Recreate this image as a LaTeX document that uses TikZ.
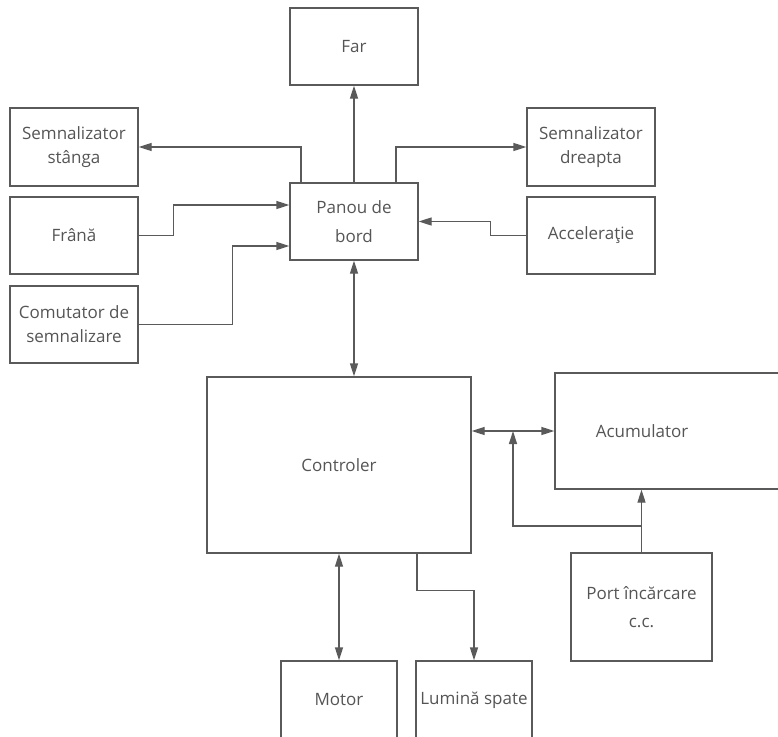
\documentclass[tikz,border=0pt]{standalone}
\usepackage{fontspec}
\setmainfont{Open Sans}
\usetikzlibrary{arrows.meta}
\definecolor{ln}{HTML}{5A5A5A}
\definecolor{txt}{HTML}{555555}
\tikzset{
  lbl/.style={text=txt, align=center, font=\fontsize{17}{24}\selectfont},
  widelbl/.style={font=\fontsize{17}{28.5}\selectfont},
  box/.style={draw=ln, line width=1.3pt, inner sep=0pt, lbl},
  wire/.style={draw=ln, line width=1.3pt},
  arr/.style={wire, -{Triangle[length=13pt,width=8pt]}},
  darr/.style={wire, {Triangle[length=13pt,width=8pt]}-{Triangle[length=13pt,width=8pt]}},
}
\begin{document}
\begin{tikzpicture}[x=1pt,y=-1pt]
\useasboundingbox (0,0) rectangle (778,736);
\clip (0,0) rectangle (778,736);
\node[box, minimum width=128pt, minimum height=77pt] (far) at (354,46.5) {Far};
\node[box, widelbl, minimum width=128pt, minimum height=77pt] (panou) at (354,221.5) {Panou de\\bord};
\node[box, minimum width=128pt, minimum height=78pt] (ss) at (74,147) {Semnalizator\\stânga};
\node[box, minimum width=128pt, minimum height=77pt] (frana) at (74,235.5) {Frână};
\node[box, minimum width=128pt, minimum height=77pt] (comut) at (74,324.5) {Comutator de\\semnalizare};
\node[box, minimum width=128pt, minimum height=78pt] (sd) at (591,147) {Semnalizator\\dreapta};
\node[box, minimum width=128pt, minimum height=77pt] (acc) at (591,235.5) {Acceleraţie};
\node[box, minimum width=264pt, minimum height=176pt] (ctrl) at (339,465) {Controler};
\node[box, minimum width=245pt, minimum height=116pt] (acum) at (677.5,431) {};
\node[lbl, inner sep=0pt] (acumt) at (642,431) {Acumulator};
\node[box, widelbl, minimum width=141pt, minimum height=108pt] (port) at (641.5,607) {Port încărcare\\c.c.};
\node[box, minimum width=116pt, minimum height=78pt] (motor) at (339,700) {Motor};
\node[box, minimum width=116pt, minimum height=78pt] (lumina) at (474,700) {Lumină spate};
\coordinate (j) at (641.5,526);
\coordinate (k) at (513,431);
% connectors
\draw[arr] (panou.north) -- (far.south);
\draw[arr] ([xshift=-53pt]panou.north) |- (ss.east);
\draw[arr] ([xshift=42pt]panou.north) |- (sd.west);
\draw[arr] (frana.east) -- ++(35,0) |- ([yshift=16.5pt]panou.west);
\draw[arr] (comut.east) -- ++(94,0) |- ([yshift=-24.5pt]panou.west);
\draw[arr] (acc.west) -- ++(-36,0) |- (panou.east);
\draw[darr] (panou.south) -- (panou.south |- ctrl.north);
\draw[darr] (acum.west -| ctrl.east) -- (acum.west);
\draw[arr] (port.north) -- (port.north |- acum.south);
\draw[arr] (j) -| (k);
\draw[arr] ([xshift=78pt]ctrl.south) -- ++(0,37) -| (lumina.north);
\draw[darr] (ctrl.south) -- (motor.north);
\end{tikzpicture}
\end{document}
